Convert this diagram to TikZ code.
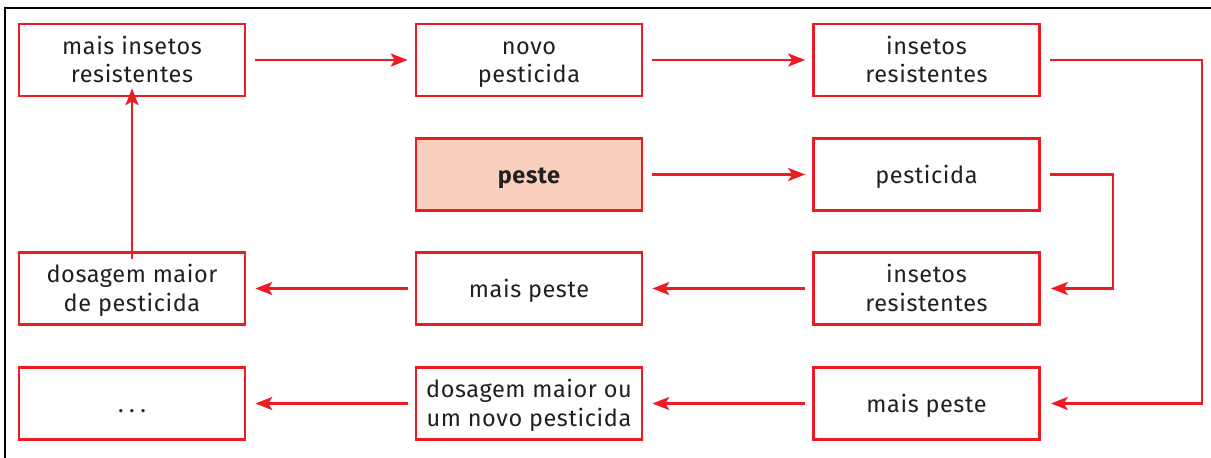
\documentclass[tikz,border=0pt]{standalone}
\usepackage{fontspec}
\setmainfont{Fira Sans}[LetterSpace=2.5]
\usetikzlibrary{arrows.meta}
\definecolor{rd}{HTML}{EC1C24}
\definecolor{txt}{HTML}{231F20}
\definecolor{salmon}{HTML}{F9CFBE}
\newcommand\tx[1]{\raisebox{-3pt}[\height][\depth]{\begin{tabular}{@{}c@{}}#1\end{tabular}}}
\begin{document}
\begin{tikzpicture}[x=1pt,y=-1pt,
  box/.style={draw=rd,line width=2.6pt,fill=white,minimum width=226pt,minimum height=72pt,
    text=txt,font=\fontsize{23.5}{28.5}\selectfont,inner sep=0pt},
  arr/.style={draw=rd,line width=2.8pt,-{Stealth[length=17pt,width=13pt,inset=4pt]}}]
\useasboundingbox (0,0) rectangle (1211,458);
\draw[black,line width=2pt] (5,470) -- (5,8) -- (1220,8);
\node[box] (a1) at (132,60) {\tx{mais insetos\\resistentes}};
\node[box] (a2) at (529,60) {\tx{novo\\pesticida}};
\node[box] (a3) at (926.5,60) {\tx{insetos\\resistentes}};
\node[box,fill=salmon,font=\fontsize{23.5}{28.5}\selectfont\bfseries] (b2) at (529,174.5) {\tx{peste}};
\node[box] (b3) at (926.5,174.5) {\tx{pesticida}};
\node[box] (c1) at (132,288.5) {\tx{dosagem maior\\de pesticida}};
\node[box] (c2) at (529,288.5) {\tx{mais peste}};
\node[box] (c3) at (926.5,288.5) {\tx{insetos\\resistentes}};
\node[box] (d1) at (132,403.5) {\tx{\vphantom{mais peste}.\hspace{5.5pt}.\hspace{5.5pt}.}};
\node[box] (d2) at (529,403.5) {\tx{dosagem maior ou\\um novo pesticida}};
\node[box] (d3) at (926.5,403.5) {\tx{mais peste}};
\coordinate (kA) at (1202,60);
\coordinate (kB) at (1113,174.5);
\draw[arr] ([xshift=9pt]a1.east) -- ([xshift=-7pt]a2.west);
\draw[arr] ([xshift=9pt]a2.east) -- ([xshift=-7pt]a3.west);
\draw[arr] ([xshift=9pt]b2.east) -- ([xshift=-7pt]b3.west);
\draw[arr] ([xshift=-7pt]c3.west) -- ([xshift=9pt]c2.east);
\draw[arr] ([xshift=-7pt]c2.west) -- ([xshift=9pt]c1.east);
\draw[arr] ([xshift=-7pt]d3.west) -- ([xshift=9pt]d2.east);
\draw[arr] ([xshift=-7pt]d2.west) -- ([xshift=9pt]d1.east);
\draw[arr] ([yshift=-8pt]c1.north) -- ([yshift=9pt]a1.south);
\draw[arr] ([xshift=9pt]a3.east) -- (kA) |- ([xshift=10pt]d3.east);
\draw[arr] ([xshift=9pt]b3.east) -- (kB) |- ([xshift=10pt]c3.east);
\end{tikzpicture}
\end{document}
